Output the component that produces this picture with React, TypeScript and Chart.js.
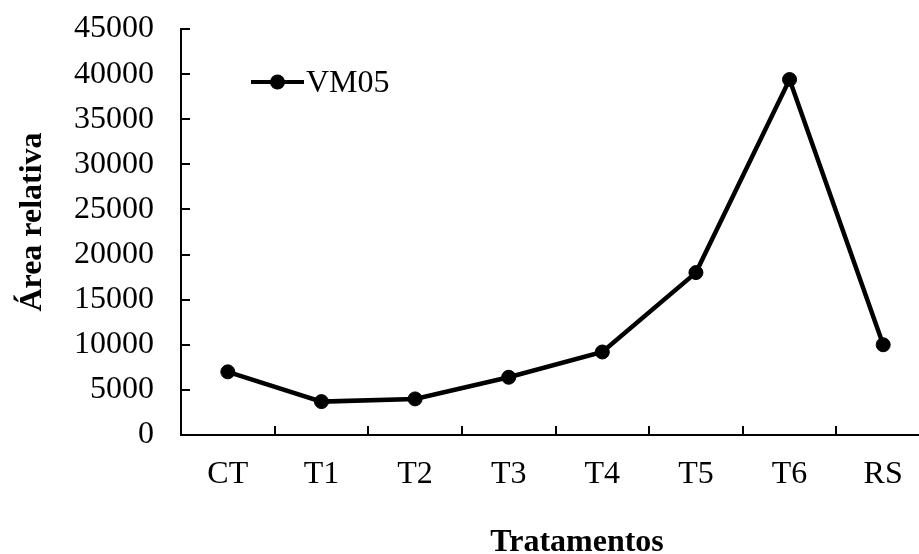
import React, { useEffect, useRef } from 'react';
import { Chart, registerables } from 'chart.js';

Chart.register(...registerables);

const categories = ['CT', 'T1', 'T2', 'T3', 'T4', 'T5', 'T6', 'RS'];
const vm05Values = [7000, 3700, 4000, 6400, 9200, 18000, 39400, 10000];
const seriesName = 'VM05';
const yTitle = 'Área relativa';
const xTitle = 'Tratamentos';
const yMin = 0;
const yMax = 45000;
const yStep = 5000;

const FONT = "'Liberation Serif', 'Times New Roman', Times, serif";

const CANVAS_W = 960;
const CANVAS_H = 554;

const innerTicksPlugin = {
  id: 'innerTicks',
  afterDatasetsDraw(chart: any) {
    const { ctx, chartArea, scales } = chart;
    const x = scales.x;
    const y = scales.y;
    ctx.save();
    ctx.strokeStyle = '#000';
    ctx.lineWidth = 2;
    ctx.lineCap = 'butt';
    // y ticks, inward
    y.ticks.forEach((t: any) => {
      const py = Math.round(y.getPixelForValue(t.value));
      ctx.beginPath();
      ctx.moveTo(chartArea.left, py);
      ctx.lineTo(chartArea.left + 9, py);
      ctx.stroke();
    });
    // x ticks at category boundaries, inward
    for (let i = 1; i <= categories.length; i++) {
      const a = x.getPixelForValue(i - 1);
      const b = i < categories.length ? x.getPixelForValue(i) : a + (a - x.getPixelForValue(i - 2));
      const px = Math.round((a + b) / 2);
      ctx.beginPath();
      ctx.moveTo(px, chartArea.bottom);
      ctx.lineTo(px, chartArea.bottom - 9);
      ctx.stroke();
    }
    ctx.restore();
  },
};

const titlesPlugin = {
  id: 'axisTitles',
  afterDraw(chart: any) {
    const { ctx, chartArea } = chart;
    ctx.save();
    ctx.fillStyle = '#000';
    ctx.font = `bold 32px ${FONT}`;
    ctx.textAlign = 'center';
    // x title
    ctx.textBaseline = 'alphabetic';
    ctx.fillText(xTitle, 577, 551);
    // y title
    ctx.translate(33, (chartArea.top + chartArea.bottom) / 2 - 10);
    ctx.rotate(-Math.PI / 2);
    ctx.textBaseline = 'middle';
    ctx.fillText(yTitle, 0, 0);
    ctx.restore();
  },
};

const legendPlugin = {
  id: 'insideLegend',
  afterDraw(chart: any) {
    const { ctx, chartArea } = chart;
    const ds = chart.data.datasets[0];
    const x0 = chartArea.left + 70;
    const x1 = x0 + 53;
    const yc = 82;
    ctx.save();
    ctx.strokeStyle = ds.borderColor;
    ctx.lineWidth = 4;
    ctx.beginPath();
    ctx.moveTo(x0, yc);
    ctx.lineTo(x1, yc);
    ctx.stroke();
    ctx.fillStyle = ds.pointBackgroundColor;
    ctx.beginPath();
    ctx.arc((x0 + x1) / 2, yc, 7.5, 0, Math.PI * 2);
    ctx.fill();
    ctx.fillStyle = '#000';
    ctx.font = `32px ${FONT}`;
    ctx.textAlign = 'left';
    ctx.textBaseline = 'alphabetic';
    ctx.fillText(ds.label, x1 + 2, 92);
    ctx.restore();
  },
};

export default function App() {
  const canvasRef = useRef<HTMLCanvasElement | null>(null);

  useEffect(() => {
    const canvas = canvasRef.current;
    if (!canvas) return;
    const chart = new Chart(canvas, {
      type: 'line',
      data: {
        labels: categories,
        datasets: [
          {
            label: seriesName,
            data: vm05Values,
            borderColor: '#000',
            backgroundColor: '#000',
            borderWidth: 4.5,
            pointRadius: 7,
            pointBorderWidth: 1,
            pointBackgroundColor: '#000',
            pointBorderColor: '#000',
            tension: 0,
            fill: false,
            clip: false as any,
          },
        ],
      },
      options: {
        animation: false,
        responsive: false,
        devicePixelRatio: 1,
        events: [],
        layout: { padding: { left: 0, right: CANVAS_W - 930, top: 29, bottom: 0 } },
        plugins: {
          legend: { display: false },
          tooltip: { enabled: false },
        },
        scales: {
          x: {
            type: 'category',
            offset: true,
            grid: { display: false, drawTicks: false },
            border: { display: true, color: '#000', width: 2 },
            ticks: {
              color: '#000',
              font: { family: FONT, size: 32 },
              padding: 20,
              maxRotation: 0,
              autoSkip: false,
            },
            afterFit(scale: any) {
              scale.height = CANVAS_H - 435;
              scale.paddingLeft = 0;
              scale.paddingRight = 0;
            },
          },
          y: {
            type: 'linear',
            min: yMin,
            max: yMax,
            grid: { display: false, drawTicks: false },
            border: { display: true, color: '#000', width: 2 },
            ticks: {
              stepSize: yStep,
              color: '#000',
              font: { family: FONT, size: 32 },
              padding: 27,
              callback: (v: any) => String(v),
            },
            afterFit(scale: any) {
              scale.width = 181;
              scale.paddingTop = 0;
              scale.paddingBottom = 0;
            },
          },
        },
      },
      plugins: [innerTicksPlugin, titlesPlugin, legendPlugin],
    });
    return () => chart.destroy();
  }, []);

  return (
    <div
      style={{
        position: 'fixed',
        left: 0,
        top: 0,
        width: 919,
        height: 554,
        overflow: 'hidden',
        background: '#fff',
      }}
    >
      <canvas
        ref={canvasRef}
        width={CANVAS_W}
        height={CANVAS_H}
        style={{ width: CANVAS_W, height: CANVAS_H, display: 'block' }}
      />
    </div>
  );
}
